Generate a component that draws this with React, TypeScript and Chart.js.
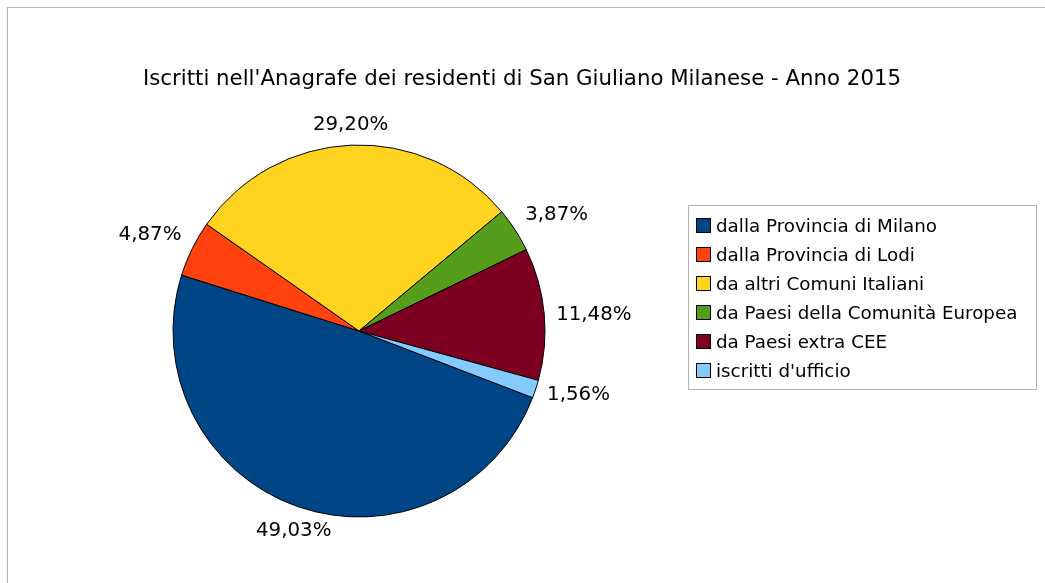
import React, { useEffect, useRef } from "react";
import { Chart, registerables } from "chart.js";

Chart.register(...registerables);

const chartTitle = "Iscritti nell'Anagrafe dei residenti di San Giuliano Milanese - Anno 2015";
const categories = [
  "dalla Provincia di Milano",
  "dalla Provincia di Lodi",
  "da altri Comuni Italiani",
  "da Paesi della Comunità Europea",
  "da Paesi extra CEE",
  "iscritti d'ufficio",
];
const shares = [49.03, 4.87, 29.2, 3.87, 11.48, 1.56];
const sliceColors = ["#004586", "#ff420e", "#ffd320", "#579d1c", "#7e0021", "#83caff"];

const FONT = "'DejaVu Sans', Verdana, sans-serif";

const fmt = (v: number) => v.toFixed(2).replace(".", ",") + "%";

// horizontal / vertical placement of a label relative to its anchor point,
// chosen by the direction of the slice's middle (eight 45° sectors)
function alignFor(mathDeg: number): [number, number] {
  const a = ((mathDeg % 360) + 360) % 360;
  if (a <= 22.5) return [1, 0];
  if (a < 67.5) return [1, -1];
  if (a < 112.5) return [0, -1];
  if (a <= 157.5) return [-1, -1];
  if (a <= 202.5) return [-1, 0];
  if (a < 247.5) return [-1, 1];
  if (a < 292.5) return [0, 1];
  if (a < 337.5) return [1, 1];
  return [1, 0];
}

const decorPlugin = {
  id: "decor",
  beforeDraw(chart: any) {
    const ctx = chart.ctx as CanvasRenderingContext2D;
    ctx.save();
    ctx.fillStyle = "#ffffff";
    ctx.fillRect(0, 0, chart.width, chart.height);
    ctx.strokeStyle = "#b3b3b3";
    ctx.lineWidth = 1;
    ctx.strokeRect(7.5, 7.5, 3000, 3000);
    ctx.restore();
  },
  afterDatasetsDraw(chart: any) {
    const ctx = chart.ctx as CanvasRenderingContext2D;
    ctx.save();
    // title
    ctx.fillStyle = "#000000";
    ctx.font = `21.3px ${FONT}`;
    ctx.textAlign = "center";
    ctx.textBaseline = "alphabetic";
    ctx.fillText(chartTitle, 522, 85);

    // slice labels
    const meta = chart.getDatasetMeta(0);
    ctx.font = `19.8px ${FONT}`;
    meta.data.forEach((arc: any, i: number) => {
      const p = arc.getProps(["startAngle", "endAngle", "x", "y", "outerRadius"], true);
      const mid = (p.startAngle + p.endAngle) / 2;
      const c = Math.cos(mid);
      const s = Math.sin(mid);
      const r = p.outerRadius + 12;
      const ax = p.x + c * r;
      const ay = p.y + s * r;
      const text = fmt(shares[i]);
      const w = ctx.measureText(text).width;
      const halfH = 10.5;
      const [hx, vy] = alignFor((-mid * 180) / Math.PI);
      const cx = ax + (hx * w) / 2;
      const cy = ay + vy * halfH;
      ctx.textAlign = "center";
      ctx.fillText(text, cx, cy + 7.3);
    });

    // legend
    ctx.strokeStyle = "#b3b3b3";
    ctx.lineWidth = 1;
    ctx.strokeRect(688.5, 205.5, 348, 184);
    ctx.font = `18.3px ${FONT}`;
    ctx.textAlign = "left";
    const colors = chart.data.datasets[0].backgroundColor as string[];
    chart.data.labels.forEach((lab: string, i: number) => {
      const yc = 225.5 + i * 29;
      ctx.fillStyle = colors[i];
      ctx.fillRect(696.5, yc - 7, 14, 14);
      ctx.strokeStyle = "#000000";
      ctx.strokeRect(696.5, yc - 7, 14, 14);
      ctx.fillStyle = "#000000";
      ctx.fillText(lab, 716, yc + 6.3);
    });
    ctx.restore();
  },
};

export default function App() {
  const ref = useRef<HTMLCanvasElement | null>(null);
  useEffect(() => {
    if (!ref.current) return;
    const chart = new Chart(ref.current, {
      type: "pie",
      data: {
        labels: categories,
        datasets: [
          {
            data: shares,
            backgroundColor: sliceColors,
            borderColor: "#000000",
            borderWidth: 1,
            radius: 186,
          } as any,
        ],
      },
      options: {
        responsive: false,
        animation: false,
        events: [],
        rotation: 111,
        layout: { padding: { left: 159, right: 486, top: 131, bottom: 52 } },
        plugins: {
          legend: { display: false },
          title: { display: false },
          tooltip: { enabled: false },
        },
      },
      plugins: [decorPlugin],
    });
    return () => chart.destroy();
  }, []);
  return (
    <canvas
      ref={ref}
      width={1045}
      height={583}
      style={{ position: "fixed", left: 0, top: 0, width: 1045, height: 583, display: "block" }}
    />
  );
}
